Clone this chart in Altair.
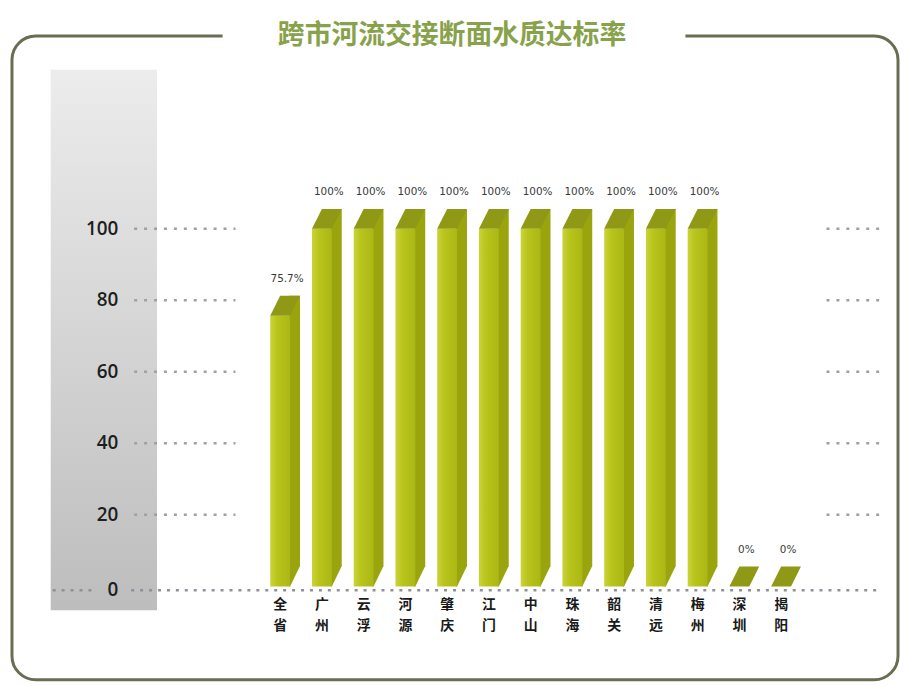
import altair as alt
import pandas as pd

# ---------------- data ----------------
categories = ["全省", "广州", "云浮", "河源", "肇庆", "江门", "中山",
              "珠海", "韶关", "清远", "梅州", "深圳", "揭阳"]
rates = [75.7, 100, 100, 100, 100, 100, 100, 100, 100, 100, 100, 0, 0]
rate_labels = ["75.7%", "100%", "100%", "100%", "100%", "100%", "100%",
               "100%", "100%", "100%", "100%", "0%", "0%"]
tick_values = [0, 20, 40, 60, 80, 100]
tick_labels = ["0", "20", "40", "60", "80", "100"]
title_text = "跨市河流交接断面水质达标率"

# ---------------- layout ----------------
W, H = 898, 676
Y0 = 580          # canvas y of value 0
PXU = 3.6         # px per unit on y
STEP = 42.5       # px between bars
X0 = 272          # canvas x of first bar centre
y_dom = [-(H - Y0) / PXU, Y0 / PXU]
x_dom = [-X0 / STEP, (W - X0) / STEP]

bars = pd.DataFrame({
    "idx": list(range(len(categories))),
    "cat": categories,
    "cat_v": ["\n".join(c) for c in categories],
    "rate": rates,
    "label": rate_labels,
})
ticks = pd.DataFrame({"v": tick_values, "t": tick_labels})
ticks_pos = ticks[ticks["v"] > 0]
ticks_zero = ticks[ticks["v"] == 0]
one = pd.DataFrame({"title": [title_text]})

xs = alt.Scale(domain=x_dom, nice=False, zero=False)
ys = alt.Scale(domain=y_dom, nice=False, zero=False)
X = alt.X("idx:Q", scale=xs, axis=None)
Y = alt.Y("rate:Q", scale=ys, axis=None)

FRONT = alt.Gradient(
    gradient="linear",
    stops=[alt.GradientStop(color="#cad43a", offset=0),
           alt.GradientStop(color="#b9c41c", offset=0.35),
           alt.GradientStop(color="#abb714", offset=1)],
    x1=0, x2=1, y1=0, y2=0)
SIDE = "#9aa50e"
CAP = "#8f9915"

# ---------------- decoration ----------------
gray_box = alt.Chart(one).mark_rect(
    fill=alt.Gradient(
        gradient="linear",
        stops=[alt.GradientStop(color="#ececec", offset=0),
               alt.GradientStop(color="#bdbdbd", offset=1)],
        x1=0, x2=0, y1=0, y2=1)
).encode(x=alt.value(43), x2=alt.value(150), y=alt.value(60), y2=alt.value(604))

frame = alt.Chart(one).mark_rect(
    fill="white", fillOpacity=0, stroke="#6b6d52", strokeWidth=3, cornerRadius=24
).encode(x=alt.value(4), x2=alt.value(896), y=alt.value(26), y2=alt.value(674))

gap = alt.Chart(one).mark_rect(fill="white").encode(
    x=alt.value(216), x2=alt.value(682), y=alt.value(16), y2=alt.value(36))

title = alt.Chart(one).mark_text(
    font="Noto Sans CJK SC", fontSize=27, fontWeight="bold", color="#88a24c",
    align="center", baseline="middle"
).encode(x=alt.value(447), y=alt.value(26), text="title:N")

# ---------------- gridline dots ----------------
DOT = dict(strokeDash=[3, 7], strokeWidth=2.5, color="#a0a0a0")
left_dots = alt.Chart(ticks_pos).mark_rule(**DOT).encode(
    y=alt.Y("v:Q", scale=ys, axis=None), x=alt.value(127), x2=alt.value(229))
right_dots = alt.Chart(ticks_pos).mark_rule(**DOT).encode(
    y=alt.Y("v:Q", scale=ys, axis=None), x=alt.value(824), x2=alt.value(878))
zero_a = alt.Chart(ticks_zero).mark_rule(strokeDash=[3, 6], strokeWidth=2.5, color="#8e909a", yOffset=4).encode(
    y=alt.Y("v:Q", scale=ys, axis=None), x=alt.value(45), x2=alt.value(84))
zero_b = alt.Chart(ticks_zero).mark_rule(strokeDash=[3, 6], strokeWidth=2.5, color="#8e909a", yOffset=4).encode(
    y=alt.Y("v:Q", scale=ys, axis=None), x=alt.value(124), x2=alt.value(880))

TT = dict(font="Open Sans", fontSize=19, fontWeight=600, color="#1e1e1e",
          align="right", baseline="middle")
tick_text = alt.Chart(ticks_pos).mark_text(**TT).encode(
    y=alt.Y("v:Q", scale=ys, axis=None), x=alt.value(111), text="t:N")
tick_text0 = alt.Chart(ticks_zero).mark_text(dy=4, **TT).encode(
    y=alt.Y("v:Q", scale=ys, axis=None), x=alt.value(111), text="t:N")

# ---------------- bars ----------------
base = alt.Chart(bars)
side = base.mark_bar(color=SIDE, size=11, xOffset=14.5, yOffset=-20, y2Offset=-20,
                     orient="vertical").encode(x=X, y=Y, y2=alt.Y2(datum=0))
bottom = base.transform_filter("datum.rate > 0").mark_point(
    shape="M 0.9 -2.05 L 2 -2.05 L 1 0 L 0.9 0 Z", size=400, filled=True, fill=SIDE,
    opacity=1, strokeWidth=0).encode(x=X, y=alt.Y(datum=0, scale=ys, axis=None))
front = base.mark_bar(fill=FRONT, size=20, orient="vertical").encode(
    x=X, y=Y, y2=alt.Y2(datum=0))
cap = base.mark_point(shape="M -1 0 L 0 -2 L 2 -2 L 1 0 Z", size=400, filled=True,
                      fill=CAP, opacity=1, strokeWidth=0).encode(x=X, y=Y)

value_text = base.mark_text(
    font="DejaVu Sans", fontSize=10.5, color="#3a3a3a",
    align="center", baseline="middle", dx=7, dy=-37
).encode(x=X, y=Y, text="label:N")

cat_text = base.mark_text(
    font="Noto Sans CJK SC", fontSize=14, fontWeight="bold", color="#1a1a1a",
    align="center", baseline="top", lineBreak="\n", lineHeight=21, dy=12
).encode(x=X, y=alt.Y(datum=0, scale=ys, axis=None), text="cat_v:N")

chart = alt.layer(
    gray_box, frame, gap, title,
    left_dots, right_dots, zero_a, zero_b, tick_text, tick_text0,
    side, bottom, front, cap, value_text, cat_text
).properties(
    width=W, height=H, padding=0, autosize=alt.AutoSizeParams(type="none"),
    background="white"
).configure_view(stroke=None)

chart.save("out.html", embed_options={"renderer": "svg", "actions": False})
